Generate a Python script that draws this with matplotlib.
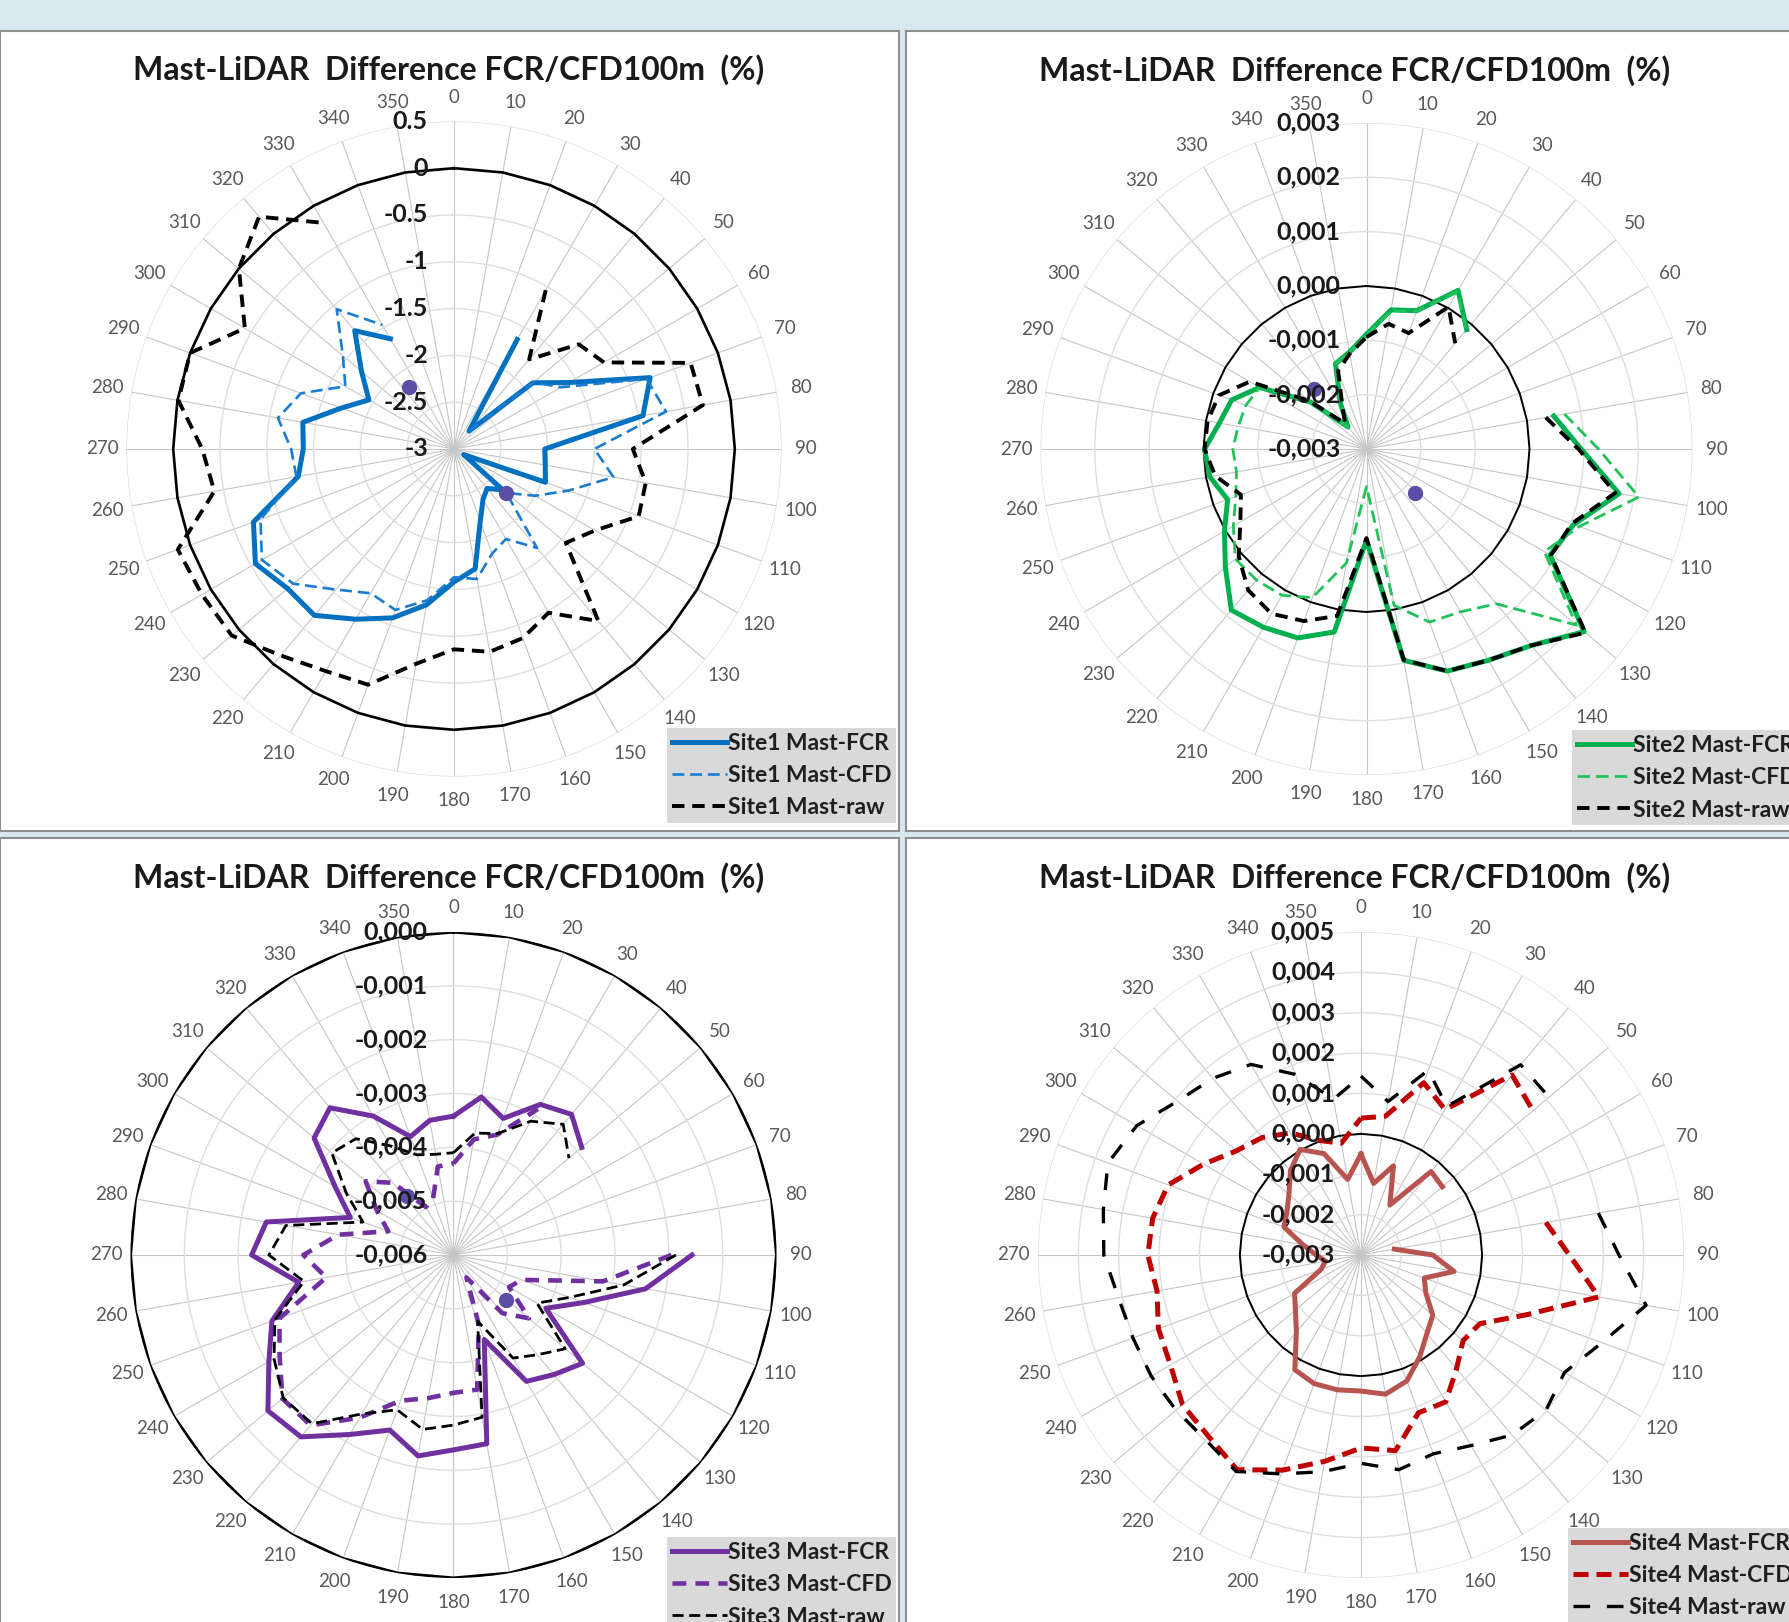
import numpy as np
import matplotlib.pyplot as plt
from matplotlib.transforms import offset_copy

plt.rcParams['font.family'] = ['Lato', 'DejaVu Sans']

W, H = 1790, 1622
nan = np.nan

# wind direction sectors (deg)
directions = list(range(0, 360, 10))

title = "Mast-LiDAR  Difference FCR/CFD100m  (%)"

# Site 1 (%)
site1_fcr = [nan, nan, nan, -1.65, -2.75, -1.90, -1.58, -0.77, -0.95, -2.03,
             -2.01, -1.96, -2.88, -2.32, -2.45, -2.38, -2.18, -1.70, -1.58, -1.31,
             -1.08, -0.90, -0.68, -0.68, -0.55, -0.72, -1.31, -1.39, -1.36, -1.72,
             -1.95, -1.71, -1.35, -1.64, nan, nan]
site1_cfd = [nan, nan, nan, nan, -2.75, -1.89, -1.68, -0.81, -0.70, -1.50,
             -1.27, -1.70, -2.00, -2.27, -1.62, -1.89, -1.81, -1.59, -1.63, -1.36,
             -1.17, -1.22, -1.04, -0.76, -0.63, -0.80, -1.29, -1.26, -1.09, -1.26,
             -1.66, -1.45, -1.05, -1.47, nan, nan]
site1_raw = [nan, nan, nan, -1.04, -1.75, -1.26, -1.15, -0.31, -0.30, -1.09,
             -0.92, -0.90, -1.26, -1.44, -0.60, -0.98, -0.85, -0.80, -0.86, -0.67,
             -0.32, -0.26, -0.12, 0.10, 0.11, 0.14, -0.40, -0.31, -0.01, 0.00,
             -0.42, 0.00, 0.24, -0.21, nan, nan]
site1_dot_dir = [324, 130]
site1_dot_val = [-2.18, -2.27]

# Site 2
site2_fcr = [-0.00089, -0.00040, -0.00029, 0.00037, -0.00013, nan, nan, nan, 0.00050, 0.00095,
             0.00172, 0.00106, 0.00090, 0.00223, 0.00172, 0.00149, 0.00135, 0.00095, -0.00132, 0.00042,
             0.00070, 0.00079, 0.00087, 0.00039, 0.00002, -0.00028, -0.00007, -0.00002, -0.00025, -0.00036,
             -0.00073, -0.00166, -0.00247, -0.00205, -0.00133, -0.00119]
site2_cfd = [-0.00090, -0.00042, -0.00030, 0.00035, -0.00015, nan, nan, nan, 0.00070, 0.00127,
             0.00209, 0.00117, 0.00078, 0.00204, 0.00072, 0.00046, 0.00039, -0.00008, -0.00231, -0.00087,
             -0.00009, 0.00011, 0.00015, 0.00015, -0.00017, -0.00044, -0.00057, -0.00054, -0.00060, -0.00064,
             -0.00073, -0.00166, -0.00247, -0.00205, -0.00133, -0.00119]
site2_raw = [-0.00094, -0.00066, -0.00073, 0.00002, -0.00046, nan, nan, nan, 0.00035, 0.00090,
             0.00165, 0.00102, 0.00092, 0.00226, 0.00172, 0.00149, 0.00135, 0.00094, -0.00136, 0.00012,
             0.00037, 0.00050, 0.00039, 0.00007, -0.00032, -0.00054, -0.00017, -0.00002, -0.00003, -0.00011,
             -0.00052, -0.00162, -0.00239, -0.00212, -0.00147, -0.00122]
site2_dot_dir = [319, 132]
site2_dot_val = [-0.00153, -0.00180]

# Site 3
site3_fcr = [-0.00342, -0.00302, -0.00330, -0.00277, -0.00259, -0.00289, nan, nan, nan, -0.00157,
             -0.00238, -0.00342, -0.00402, -0.00287, -0.00310, -0.00329, -0.00433, -0.00244, -0.00238, -0.00221,
             -0.00254, -0.00215, -0.00159, -0.00150, -0.00204, -0.00241, -0.00308, -0.00225, -0.00247, -0.00396,
             -0.00346, -0.00262, -0.00243, -0.00302, -0.00366, -0.00346]
site3_cfd = [-0.00430, -0.00382, -0.00362, -0.00287, nan, nan, nan, nan, nan, -0.00195,
             -0.00318, -0.00465, -0.00481, -0.00417, -0.00459, -0.00552, -0.00463, -0.00346, -0.00344, -0.00330,
             -0.00312, -0.00251, -0.00187, -0.00185, -0.00227, -0.00256, -0.00360, -0.00321, -0.00383, -0.00471,
             -0.00436, -0.00387, -0.00425, -0.00497, -0.00489, -0.00433]
site3_raw = [-0.00410, -0.00370, -0.00360, -0.00313, -0.00283, -0.00320, nan, nan, nan, -0.00187,
             -0.00279, -0.00370, -0.00421, -0.00329, -0.00358, -0.00379, -0.00469, -0.00294, -0.00284, -0.00271,
             -0.00294, -0.00259, -0.00191, -0.00187, -0.00215, -0.00247, -0.00318, -0.00257, -0.00284, -0.00421,
             -0.00370, -0.00305, -0.00318, -0.00366, -0.00402, -0.00410]
site3_dot_dir = [322, 131]
site3_dot_val = [-0.00460, -0.00472]

# Site 4
site4_fcr = [-0.00050, -0.00120, -0.00065, -0.00157, -0.00030, -0.00037, nan, nan, -0.00216, -0.00122,
             -0.00066, -0.00133, -0.00115, -0.00068, -0.00046, -0.00009, 0.00032, 0.00050, 0.00037, 0.00039,
             0.00039, 0.00028, -0.00051, -0.00088, -0.00110, -0.00194, -0.00211, -0.00189, -0.00154, -0.00097,
             -0.00088, -0.00067, -0.00028, 0.00002, -0.00033, -0.00110]
site4_cfd = [0.00039, 0.00049, 0.00154, 0.00116, 0.00282, 0.00256, nan, nan, 0.00165, 0.00216,
             0.00298, 0.00134, 0.00040, 0.00030, 0.00068, 0.00120, 0.00116, 0.00192, 0.00178, 0.00219,
             0.00267, 0.00314, 0.00287, 0.00277, 0.00245, 0.00234, 0.00213, 0.00228, 0.00224, 0.00208,
             0.00150, 0.00102, 0.00080, 0.00049, 0.00002, -0.00019]
site4_raw = [0.00143, 0.00086, 0.00187, 0.00125, 0.00315, 0.00308, nan, nan, 0.00297, 0.00339,
             0.00417, 0.00335, 0.00282, 0.00298, 0.00282, 0.00245, 0.00224, 0.00240, 0.00216, 0.00245,
             0.00277, 0.00319, 0.00298, 0.00298, 0.00300, 0.00301, 0.00310, 0.00337, 0.00348, 0.00367,
             0.00341, 0.00293, 0.00271, 0.00245, 0.00176, 0.00092]

site1_ticks = [0.5, 0, -0.5, -1, -1.5, -2, -2.5, -3]
site1_ticklabels = ['0.5', '0', '-0.5', '-1', '-1.5', '-2', '-2.5', '-3']
site2_ticks = [0.003, 0.002, 0.001, 0.0, -0.001, -0.002, -0.003]
site2_ticklabels = ['0,003', '0,002', '0,001', '0,000', '-0,001', '-0,002', '-0,003']
site3_ticks = [0.0, -0.001, -0.002, -0.003, -0.004, -0.005, -0.006]
site3_ticklabels = ['0,000', '-0,001', '-0,002', '-0,003', '-0,004', '-0,005', '-0,006']
site4_ticks = [0.005, 0.004, 0.003, 0.002, 0.001, 0.0, -0.001, -0.002, -0.003]
site4_ticklabels = ['0,005', '0,004', '0,003', '0,002', '0,001', '0,000', '-0,001', '-0,002', '-0,003']


def px(x0, y0, w, h):
    # pixel box (top-left origin) -> figure fraction rect
    return [x0 / W, 1 - (y0 + h) / H, w / W, h / H]


fig = plt.figure(figsize=(W / 100, H / 100), dpi=100)
fig.patch.set_facecolor('#d7e9ee')

theta = np.deg2rad(directions + [360])


def closed(vals):
    return list(vals) + [vals[0]]


def draw_panel(frame, centre, radius, title_xy, lim, ticks, ticklabels,
               series, ring_lw, legend_xy, dots=None):
    # white chart area with grey border
    bg = fig.add_axes(px(*frame))
    bg.set_facecolor('white')
    bg.set_xticks([])
    bg.set_yticks([])
    for s in bg.spines.values():
        s.set_color('#8e8e8e')
        s.set_linewidth(1.5)

    fig.text(title_xy[0] / W, 1 - title_xy[1] / H, title, ha='center', va='center',
             fontsize=23, fontweight='bold', color='#1a1a1a')

    cx, cy = centre
    ax = fig.add_axes(px(cx - radius, cy - radius, 2 * radius, 2 * radius), projection='polar')
    ax.set_facecolor('none')
    ax.set_theta_zero_location('N')
    ax.set_theta_direction(-1)
    ax.set_ylim(*lim)
    ax.spines['polar'].set_visible(False)
    ax.set_thetagrids(directions, [str(d) for d in directions])
    ax.tick_params(axis='x', pad=7, labelsize=13.5, labelcolor='#595959')
    ax.set_yticks(ticks)
    ax.set_yticklabels([])
    ax.yaxis.grid(True, color='#dedede', lw=1.0)
    ax.xaxis.grid(True, color='#c6c6c6', lw=0.8)

    # zero reference ring
    ax.plot(theta, [0.0] * len(theta), color='black', lw=ring_lw, zorder=3)

    handles = []
    for vals, label, kw in series:
        ln, = ax.plot(theta, closed(vals), label=label, zorder=4, **kw)
        handles.append(ln)

    if dots is not None:
        ax.plot(np.deg2rad(dots[0]), dots[1], 'o', ms=10, color='#5a4ea6', ls='none', zorder=5)

    tr = offset_copy(ax.transData, fig=fig, x=-26, y=0, units='dots')
    for t, lab in zip(ticks, ticklabels):
        ax.text(0, t, lab, transform=tr, ha='right', va='center', fontsize=18,
                fontweight='bold', color='#1a1a1a', zorder=6)

    leg = ax.legend(handles=handles, loc='upper left',
                    bbox_to_anchor=(legend_xy[0] / W, 1 - legend_xy[1] / H),
                    bbox_transform=fig.transFigure, borderaxespad=0,
                    frameon=True, fancybox=False, facecolor='#d9d9d9', edgecolor='none',
                    framealpha=1, borderpad=0.2, handlelength=2.4, handletextpad=0.05,
                    labelspacing=0.5, prop={'weight': 'bold', 'size': 16.5})
    for txt in leg.get_texts():
        txt.set_color('#1f1f1f')
    return ax


draw_panel((0, 31, 899, 800), (454, 449), 327.6, (449, 70), (-3, 0.5),
           site1_ticks, site1_ticklabels,
           [(site1_fcr, 'Site1 Mast-FCR', dict(color='#0070c0', lw=3.6)),
            (site1_cfd, 'Site1 Mast-CFD', dict(color='#1a7dd2', lw=1.9, dashes=(4.5, 2.2))),
            (site1_raw, 'Site1 Mast-raw', dict(color='black', lw=2.8, dashes=(3.2, 2.0)))],
           1.9, (667, 728), dots=(site1_dot_dir, site1_dot_val))

draw_panel((906, 31, 900, 800), (1366.5, 449), 326, (1355, 71), (-0.003, 0.003),
           site2_ticks, site2_ticklabels,
           [(site2_fcr, 'Site2 Mast-FCR', dict(color='#00b050', lw=3.6)),
            (site2_cfd, 'Site2 Mast-CFD', dict(color='#21c25a', lw=2.0, dashes=(4.5, 2.2))),
            (site2_raw, 'Site2 Mast-raw', dict(color='black', lw=2.8, dashes=(3.2, 2.0)))],
           1.4, (1572, 730), dots=(site2_dot_dir, site2_dot_val))

draw_panel((0, 838, 899, 820), (453.5, 1255), 323, (449, 878), (-0.006, 0.0),
           site3_ticks, site3_ticklabels,
           [(site3_fcr, 'Site3 Mast-FCR', dict(color='#7030a0', lw=3.6)),
            (site3_cfd, 'Site3 Mast-CFD', dict(color='#7030a0', lw=3.3, dashes=(3.0, 2.0))),
            (site3_raw, 'Site3 Mast-raw', dict(color='black', lw=2.0, dashes=(4.0, 2.0)))],
           2.2, (667, 1537), dots=(site3_dot_dir, site3_dot_val))

draw_panel((906, 838, 900, 820), (1361, 1255), 323, (1355, 878), (-0.003, 0.005),
           site4_ticks, site4_ticklabels,
           [(site4_fcr, 'Site4 Mast-FCR', dict(color='#b85450', lw=3.6)),
            (site4_cfd, 'Site4 Mast-CFD', dict(color='#c00000', lw=3.6, dashes=(3.0, 1.6))),
            (site4_raw, 'Site4 Mast-raw', dict(color='black', lw=2.4, dashes=(5.0, 5.0)))],
           1.4, (1568, 1528))

fig.savefig('out.png', dpi=100, facecolor=fig.get_facecolor())
